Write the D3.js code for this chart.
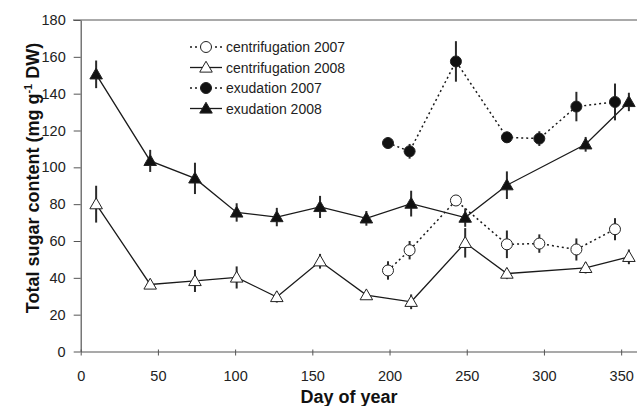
<!DOCTYPE html>
<html><head><meta charset="utf-8">
<script src="https://cdn.jsdelivr.net/npm/d3@7"></script>
<style>body{margin:0;background:#fff}svg{display:block}text{font-family:Arial,"Liberation Sans",sans-serif}</style>
</head><body><svg id="c" width="637" height="406"></svg>
<script>
// Data
const exud2008Day = [10, 45, 74, 101, 127, 155, 185, 214, 249, 276, 327, 355];
const exud2008Val = [150.5, 103.5, 94, 75.5, 73, 78.5, 72.3, 80.3, 72.7, 90.3, 112.5, 135.5];
const exud2008Err = [7.5, 6, 8.5, 5, 5, 6, 4, 7, 5, 7.5, 4, 5];
const cent2008Day = [10, 45, 74, 101, 127, 155, 185, 214, 249, 276, 327, 355];
const cent2008Val = [80, 36.4, 38.3, 40.2, 29.6, 49, 30.6, 27, 59, 42.3, 45.4, 51.4];
const cent2008Err = [10, 2, 6, 6, 3, 4, 2, 4, 8, 3, 3, 4];
const exud2007Day = [199, 213, 243, 276, 297, 321, 346];
const exud2007Val = [113.2, 108.7, 157.5, 116.3, 115.6, 133, 135.5];
const exud2007Err = [3, 4, 11, 3, 4, 8, 10];
const cent2007Day = [199, 213, 243, 276, 297, 321, 346];
const cent2007Val = [44, 55, 82, 58.2, 58.6, 55.4, 66.4];
const cent2007Err = [5, 5, 2, 7.5, 5, 6, 6];
const xTicks = [0, 50, 100, 150, 200, 250, 300, 350];
const yTicks = [0, 20, 40, 60, 80, 100, 120, 140, 160, 180];
const legendLabels = ["centrifugation 2007", "centrifugation 2008", "exudation 2007", "exudation 2008"];

const svg = d3.select("#c");
const x = d3.scaleLinear().domain([0, 360]).range([80.7, 636.6]);
const y = d3.scaleLinear().domain([0, 180]).range([351.5, 20]);
const axCol = "#555", txtCol = "#222";

// top frame line
svg.append("line").attr("x1", 73).attr("x2", 637).attr("y1", y(180)).attr("y2", y(180)).attr("stroke", axCol).attr("stroke-width", 1);

// axes
const yAx = svg.append("g").attr("transform", `translate(${x(0)},0)`)
  .call(d3.axisLeft(y).tickValues(yTicks).tickSize(7).tickPadding(8).tickSizeOuter(0));
const xAx = svg.append("g").attr("transform", `translate(0,${y(0)})`)
  .call(d3.axisBottom(x).tickValues(xTicks).tickSize(4).tickPadding(15).tickSizeOuter(0));
[xAx, yAx].forEach(g => {
  g.selectAll("path").attr("stroke", axCol).attr("stroke-width", 1.2);
  g.selectAll("line").attr("stroke", axCol);
  g.selectAll("text").attr("font-size", 14.5).attr("fill", txtCol).attr("font-family", "Arial, Liberation Sans, sans-serif");
});
xAx.selectAll(".tick line").attr("y1", -2).attr("y2", 4);

// axis titles
svg.append("text").attr("x", 349).attr("y", 403).attr("text-anchor", "middle")
  .attr("font-size", 18).attr("font-weight", "bold").attr("fill", "#111").text("Day of year");
const yt = svg.append("text").attr("transform", `translate(39,${178}) rotate(-90)`).attr("text-anchor", "middle")
  .attr("font-size", 18).attr("font-weight", "bold").attr("fill", "#111");
yt.append("tspan").text("Total sugar content (mg g");
yt.append("tspan").attr("font-size", 11).attr("dy", -7).text("-1");
yt.append("tspan").attr("dy", 7).text(" DW)");

const lineCol = "#1a1a1a";
const series = [
  {d: cent2008Day, v: cent2008Val, e: cent2008Err, dash: null, sym: d3.symbolTriangle, fill: "#fff"},
  {d: exud2008Day, v: exud2008Val, e: exud2008Err, dash: null, sym: d3.symbolTriangle, fill: "#111"},
  {d: cent2007Day, v: cent2007Val, e: cent2007Err, dash: "2,3", sym: d3.symbolCircle, fill: "#fff"},
  {d: exud2007Day, v: exud2007Val, e: exud2007Err, dash: "2,3", sym: d3.symbolCircle, fill: "#111"}
];
const line = d3.line().x(p => x(p[0])).y(p => y(p[1]));
const symSize = s => s === d3.symbolTriangle ? 68 : 95;

series.forEach(s => {
  const pts = s.d.map((d, i) => [d, s.v[i], s.e[i]]);
  svg.append("path").attr("d", line(pts)).attr("fill", "none").attr("stroke", lineCol)
    .attr("stroke-width", s.dash ? 1.5 : 1.3).attr("stroke-dasharray", s.dash);
});
series.forEach(s => {
  const pts = s.d.map((d, i) => [d, s.v[i], s.e[i]]);
  svg.append("g").selectAll("line").data(pts).join("line")
    .attr("x1", p => x(p[0])).attr("x2", p => x(p[0]))
    .attr("y1", p => y(p[1] - p[2])).attr("y2", p => y(p[1] + p[2]))
    .attr("stroke", "#2a2a2a").attr("stroke-width", 2);
  svg.append("g").selectAll("path").data(pts).join("path")
    .attr("transform", p => `translate(${x(p[0])},${y(p[1]) + (s.sym === d3.symbolTriangle ? 1 : 0)})`)
    .attr("d", d3.symbol().type(s.sym).size(symSize(s.sym)))
    .attr("fill", s.fill).attr("stroke", "#222").attr("stroke-width", 1);
});

// legend
const legOrder = [series[2], series[0], series[3], series[1]];
legendLabels.forEach((lab, i) => {
  const s = legOrder[i];
  const ly = 47 + i * 20.5;
  svg.append("line").attr("x1", 190).attr("x2", 222).attr("y1", ly).attr("y2", ly)
    .attr("stroke", lineCol).attr("stroke-width", s.dash ? 1.5 : 1.3).attr("stroke-dasharray", s.dash);
  svg.append("path").attr("transform", `translate(206,${ly + (s.sym === d3.symbolTriangle ? 1 : 0)})`)
    .attr("d", d3.symbol().type(s.sym).size(symSize(s.sym)))
    .attr("fill", s.fill).attr("stroke", "#222").attr("stroke-width", 1);
  svg.append("text").attr("x", 226).attr("y", ly + 5).attr("font-size", 14).attr("fill", txtCol).text(lab);
});
</script></body></html>
